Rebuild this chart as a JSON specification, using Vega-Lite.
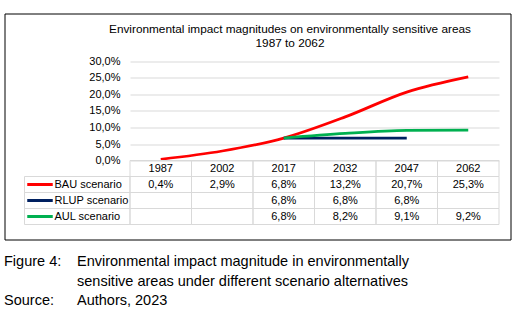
{
  "$schema": "https://vega.github.io/schema/vega-lite/v6.json",
  "width": 506,
  "height": 226,
  "autosize": {"type": "none"},
  "padding": {"left": 4.5, "top": 13.5, "right": 8.5, "bottom": 74.5},
  "background": "#ffffff",
  "config": {
    "view": {"stroke": "#000000", "strokeWidth": 1},
    "font": "Liberation Sans",
    "text": {"font": "Liberation Sans", "fontSize": 11, "color": "#000000"}
  },
  "title": {
    "text": ["Environmental impact magnitudes on environmentally sensitive areas", "1987 to 2062"],
    "font": "Liberation Sans",
    "fontSize": 11.8,
    "fontWeight": "normal",
    "color": "#000000",
    "anchor": "middle",
    "frame": "group",
    "lineHeight": 14,
    "offset": -36,
    "dx": 32.5
  },
  "datasets": {
    "series": [
      {"scenario": "BAU scenario", "year": 1987, "value": 0.4},
      {"scenario": "BAU scenario", "year": 2002, "value": 2.9},
      {"scenario": "BAU scenario", "year": 2017, "value": 6.8},
      {"scenario": "BAU scenario", "year": 2032, "value": 13.2},
      {"scenario": "BAU scenario", "year": 2047, "value": 20.7},
      {"scenario": "BAU scenario", "year": 2062, "value": 25.3},
      {"scenario": "RLUP scenario", "year": 1987, "value": null},
      {"scenario": "RLUP scenario", "year": 2002, "value": null},
      {"scenario": "RLUP scenario", "year": 2017, "value": 6.8},
      {"scenario": "RLUP scenario", "year": 2032, "value": 6.8},
      {"scenario": "RLUP scenario", "year": 2047, "value": 6.8},
      {"scenario": "RLUP scenario", "year": 2062, "value": null},
      {"scenario": "AUL scenario", "year": 1987, "value": null},
      {"scenario": "AUL scenario", "year": 2002, "value": null},
      {"scenario": "AUL scenario", "year": 2017, "value": 6.8},
      {"scenario": "AUL scenario", "year": 2032, "value": 8.2},
      {"scenario": "AUL scenario", "year": 2047, "value": 9.1},
      {"scenario": "AUL scenario", "year": 2062, "value": 9.2}
    ],
    "caption": [
      {"line": 1, "label": "Figure 4:", "text": "Environmental impact magnitude in environmentally"},
      {"line": 2, "label": "", "text": "sensitive areas under different scenario alternatives"},
      {"line": 3, "label": "Source:", "text": "Authors, 2023"}
    ]
  },
  "data": {"name": "series"},
  "layer": [
    {
      "transform": [{"filter": "datum.value != null"}],
      "mark": {"type": "line", "interpolate": "monotone", "strokeWidth": 2.75},
      "encoding": {
        "x": {
          "field": "year", "type": "ordinal",
          "scale": {"type": "point", "domain": [1987, 2002, 2017, 2032, 2047, 2062], "range": [125.5, 494.5], "padding": 0.5},
          "axis": null
        },
        "y": {
          "field": "value", "type": "quantitative",
          "scale": {"domain": [0, 30], "range": [147.1, 47.8], "nice": false, "zero": true},
          "axis": {
            "values": [0, 5, 10, 15, 20, 25, 30],
            "labelExpr": "replace(format(datum.value, '.1f'), '.', ',') + '%'",
            "domain": false, "ticks": false, "grid": true,
            "gridColor": "#d9d9d9", "gridWidth": 1,
            "offset": -120.5, "labelPadding": 5, "title": null,
            "labelFont": "Liberation Sans", "labelFontSize": 11, "labelColor": "#000000"
          }
        },
        "color": {
          "field": "scenario", "type": "nominal",
          "scale": {"domain": ["BAU scenario", "RLUP scenario", "AUL scenario"], "range": ["#ff0000", "#002060", "#00b050"]},
          "legend": {
            "orient": "none", "legendX": 21, "legendY": 163,
            "title": null, "symbolType": "stroke", "symbolSize": 650, "symbolStrokeWidth": 3,
            "clipHeight": 16, "rowPadding": 0, "padding": 0, "labelOffset": 0, "labelLimit": 200,
            "labelFont": "Liberation Sans", "labelFontSize": 11, "labelColor": "#000000"
          }
        }
      }
    },
    {
      "encoding": {
        "x": {
          "field": "year", "type": "ordinal",
          "scale": {"type": "band", "domain": [1987, 2002, 2017, 2032, 2047, 2062], "range": [125.5, 494.5], "paddingInner": 0, "paddingOuter": 0},
          "axis": null
        },
        "y": {
          "field": "scenario", "type": "nominal",
          "scale": {"type": "band", "domain": ["Year", "BAU scenario", "RLUP scenario", "AUL scenario"], "range": [147, 211], "paddingInner": 0, "paddingOuter": 0},
          "axis": null
        }
      },
      "layer": [
        {
          "mark": {"type": "rect", "fillOpacity": 0, "stroke": "#d9d9d9", "strokeWidth": 1}
        },
        {
          "transform": [{"filter": "datum.scenario == 'BAU scenario'"}],
          "mark": {"type": "rect", "fillOpacity": 0, "stroke": "#d9d9d9", "strokeWidth": 1},
          "encoding": {"y": {"datum": "Year"}}
        },
        {
          "transform": [{"filter": "datum.scenario == 'BAU scenario'"}],
          "mark": {"type": "text", "font": "Liberation Sans", "fontSize": 11, "color": "#000000"},
          "encoding": {"y": {"datum": "Year"}, "text": {"field": "year", "type": "nominal"}}
        },
        {
          "transform": [
            {"filter": "datum.value != null"},
            {"calculate": "replace(format(datum.value, '.1f'), '.', ',') + '%'", "as": "label"}
          ],
          "mark": {"type": "text", "font": "Liberation Sans", "fontSize": 11, "color": "#000000"},
          "encoding": {"text": {"field": "label", "type": "nominal"}}
        }
      ]
    },
    {
      "transform": [{"aggregate": [{"op": "count", "as": "n"}], "groupby": ["scenario"]}],
      "mark": {"type": "rect", "fillOpacity": 0, "stroke": "#d9d9d9", "strokeWidth": 1},
      "encoding": {
        "x": {
          "datum": "legend", "type": "nominal",
          "scale": {"type": "band", "domain": ["legend"], "range": [20, 125.5], "paddingInner": 0, "paddingOuter": 0},
          "axis": null
        },
        "y": {
          "field": "scenario", "type": "nominal",
          "scale": {"type": "band", "domain": ["Year", "BAU scenario", "RLUP scenario", "AUL scenario"], "range": [147, 211], "paddingInner": 0, "paddingOuter": 0},
          "axis": null
        }
      }
    },
    {
      "data": {"name": "caption"},
      "encoding": {
        "y": {
          "field": "line", "type": "ordinal",
          "scale": {"type": "point", "domain": [1, 2, 3], "range": [252.5, 291.5], "padding": 0},
          "axis": null
        }
      },
      "layer": [
        {
          "mark": {"type": "text", "align": "left", "baseline": "alphabetic", "font": "Liberation Sans", "fontSize": 14.5, "color": "#000000"},
          "encoding": {
            "x": {"datum": "label", "type": "nominal", "scale": {"type": "point", "domain": ["label", "text"], "range": [-0.5, 72.5], "padding": 0}, "axis": null},
            "text": {"field": "label", "type": "nominal"}
          }
        },
        {
          "mark": {"type": "text", "align": "left", "baseline": "alphabetic", "font": "Liberation Sans", "fontSize": 14.5, "color": "#000000"},
          "encoding": {
            "x": {"datum": "text", "type": "nominal", "axis": null},
            "text": {"field": "text", "type": "nominal"}
          }
        }
      ]
    }
  ],
  "resolve": {"scale": {"x": "independent", "y": "independent"}}
}
